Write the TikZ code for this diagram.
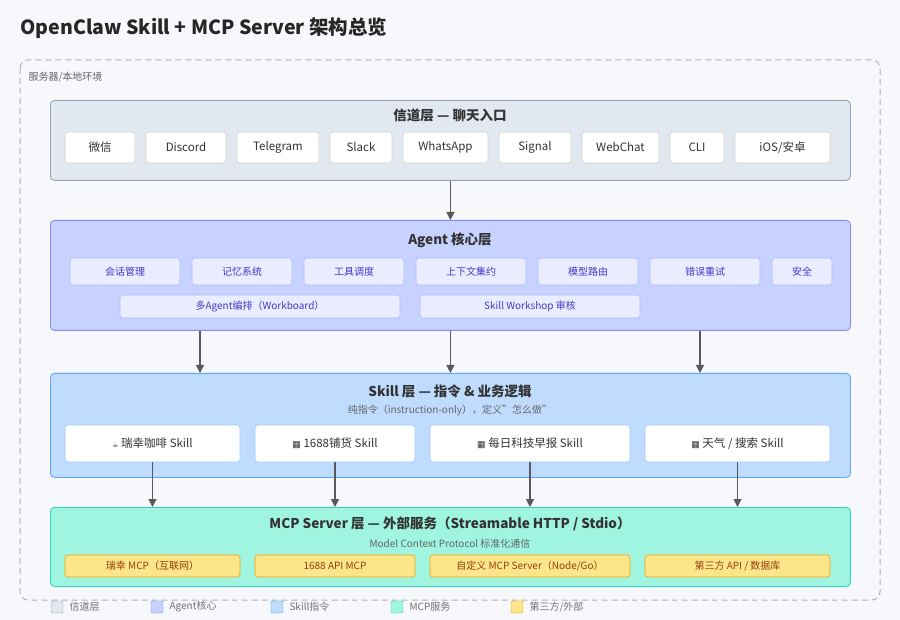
\documentclass[tikz,border=0pt]{standalone}
\usepackage{fontspec}
\setmainfont{Noto Sans CJK SC}
\newfontfamily\djv{DejaVu Sans}
\usetikzlibrary{arrows.meta}
\begin{document}
\begin{tikzpicture}[x=1pt,y=-1pt,
  layer/.style={draw,rounded corners=4pt,line width=0.8pt},
  item/.style={draw,rounded corners=3pt,line width=0.6pt,align=center},
  chitem/.style={item,fill=white,draw=gray!35,font=\fontsize{11.5}{13}\selectfont,text=black!80},
  agitem/.style={item,fill=ag!40,draw=agb!60,font=\fontsize{10}{12}\selectfont,text=agt},
  skitem/.style={item,fill=white,draw=skb!60,font=\fontsize{11.5}{13}\selectfont,text=black!80},
  mcitem/.style={item,fill=mcy,draw=mcyb,font=\fontsize{10}{12}\selectfont,text=mcyt},
  arr/.style={-{Triangle[length=8pt,width=8pt]},draw=black!65,line width=1.1pt},
  ttl/.style={font=\bfseries\fontsize{13.5}{16}\selectfont,text=black!80},
  sub/.style={font=\fontsize{10}{12}\selectfont,text=black!60},
  leg/.style={draw,rounded corners=1.5pt,minimum size=12pt,inner sep=0pt},
  legt/.style={font=\fontsize{10}{12}\selectfont,text=black!55,anchor=west}]
\definecolor{bg}{HTML}{F7F8FB}
\definecolor{ch}{HTML}{E2E8F0}\definecolor{chb}{HTML}{94A3B8}
\definecolor{ag}{HTML}{C7D2FE}\definecolor{agb}{HTML}{818CF8}\definecolor{agt}{HTML}{4338CA}
\definecolor{sk}{HTML}{BFDBFE}\definecolor{skb}{HTML}{60A5FA}
\definecolor{mc}{HTML}{9FF5E0}\definecolor{mcb}{HTML}{2DD4BF}
\definecolor{mcy}{HTML}{FDE68A}\definecolor{mcyb}{HTML}{F59E0B}\definecolor{mcyt}{HTML}{92400E}
\fill[bg] (0,0) rectangle (900,620);
\useasboundingbox (0,0) rectangle (900,620);
\node[anchor=west,font=\bfseries\fontsize{19.5}{22}\selectfont,text=black!85] (title) at (17,28) {OpenClaw Skill + MCP Server 架构总览};
\draw[dashed,rounded corners=8pt,draw=gray!60,line width=1pt,dash pattern=on 6pt off 4pt] (20,60) rectangle (880,600);
\node[anchor=west,font=\fontsize{10}{12}\selectfont,text=black!60] (env) at (25,77) {服务器/本地环境};
% channel
\node[layer,fill=ch,draw=chb,minimum width=800pt,minimum height=80pt,anchor=north west] (chl) at (50,100) {};
\node[ttl] (cht) at (450,115) {信道层 — 聊天入口};
\foreach \n/\a/\b/\t in {c1/65/135/微信,c2/146/226/Discord,c3/237/319/Telegram,c4/330/392/Slack,c5/403/488/WhatsApp,c6/499/571/Signal,c7/582/659/WebChat,c8/670/724/CLI,c9/735/830/{iOS/安卓}}
  \node[chitem,minimum width=\b pt-\a pt,minimum height=31pt] (\n) at ({(\a+\b)/2},147.5) {\t};
% agent
\node[layer,fill=ag,draw=agb,minimum width=800pt,minimum height=110pt,anchor=north west] (agl) at (50,220) {};
\node[ttl] (agtt) at (450,240) {Agent 核心层};
\foreach \n/\a/\b/\t in {a1/70/180/会话管理,a2/192/292/记忆系统,a3/304/404/工具调度,a4/416/526/上下文集约,a5/538/638/模型路由,a6/650/760/错误重试,a7/772/832/安全}
  \node[agitem,minimum width=\b pt-\a pt,minimum height=27pt] (\n) at ({(\a+\b)/2},271.5) {\t};
\node[agitem,minimum width=280pt,minimum height=23pt] (a8) at (260,306.5) {多Agent编排（Workboard）};
\node[agitem,minimum width=220pt,minimum height=23pt] (a9) at (530,306.5) {Skill Workshop 审核};
% skill
\node[layer,fill=sk,draw=skb,minimum width=800pt,minimum height=104pt,anchor=north west] (skl) at (50,373) {};
\node[ttl] (sktt) at (450,391) {Skill 层 — 指令 \& 业务逻辑};
\node[sub] (sks) at (450,410) {纯指令（instruction-only），定义"怎么做"};
\node[skitem,minimum width=175pt,minimum height=37pt] (s1) at (152.5,443.5) {{\djv\fontsize{7}{8}\selectfont ☕} 瑞幸咖啡 Skill};
\node[skitem,minimum width=160pt,minimum height=37pt] (s2) at (335,443.5) {{\djv\fontsize{9}{9}\selectfont ▦} 1688铺货 Skill};
\node[skitem,minimum width=200pt,minimum height=37pt] (s3) at (530,443.5) {{\djv\fontsize{9}{9}\selectfont ▦} 每日科技早报 Skill};
\node[skitem,minimum width=185pt,minimum height=37pt] (s4) at (737.5,443.5) {{\djv\fontsize{9}{9}\selectfont ▦} 天气 / 搜索 Skill};
% mcp
\node[layer,fill=mc,draw=mcb,minimum width=800pt,minimum height=79pt,anchor=north west] (mcl) at (50,507) {};
\node[ttl] (mctt) at (450,524) {MCP Server 层 — 外部服务（Streamable HTTP / Stdio）};
\node[sub] (mcs) at (450,544) {Model Context Protocol 标准化通信};
\node[mcitem,minimum width=175pt,minimum height=22pt] (m1) at (152.5,566) {瑞幸 MCP（互联网）};
\node[mcitem,minimum width=160pt,minimum height=22pt] (m2) at (335,566) {1688 API MCP};
\node[mcitem,minimum width=200pt,minimum height=22pt] (m3) at (530,566) {自定义 MCP Server（Node/Go）};
\node[mcitem,minimum width=185pt,minimum height=22pt] (m4) at (737.5,566) {第三方 API / 数据库};
% arrows
\draw[arr] (chl.south) -- (agl.north);
\draw[arr] (agl.south -| 200,0) -- (skl.north -| 200,0);
\draw[arr] (agl.south) -- (skl.north);
\draw[arr] (agl.south -| 700,0) -- (skl.north -| 700,0);
\draw[arr] (s1.south) -- (mcl.north -| s1.south);
\draw[arr] (s2.south) -- (mcl.north -| s2.south);
\draw[arr] (s3.south) -- (mcl.north -| s3.south);
\draw[arr] (s4.south) -- (mcl.north -| s4.south);
% legend
\node[leg,fill=ch,draw=chb] (l1) at (57,607) {}; \node[legt] (l1t) at (66,607) {信道层};
\node[leg,fill=ag,draw=agb] (l2) at (157,607) {}; \node[legt] (l2t) at (166,607) {Agent核心};
\node[leg,fill=sk,draw=skb] (l3) at (277,607) {}; \node[legt] (l3t) at (286,607) {Skill指令};
\node[leg,fill=mc,draw=mcb] (l4) at (397,607) {}; \node[legt] (l4t) at (406,607) {MCP服务};
\node[leg,fill=mcy,draw=mcyb] (l5) at (517,607) {}; \node[legt] (l5t) at (526,607) {第三方/外部};
\end{tikzpicture}
\end{document}
